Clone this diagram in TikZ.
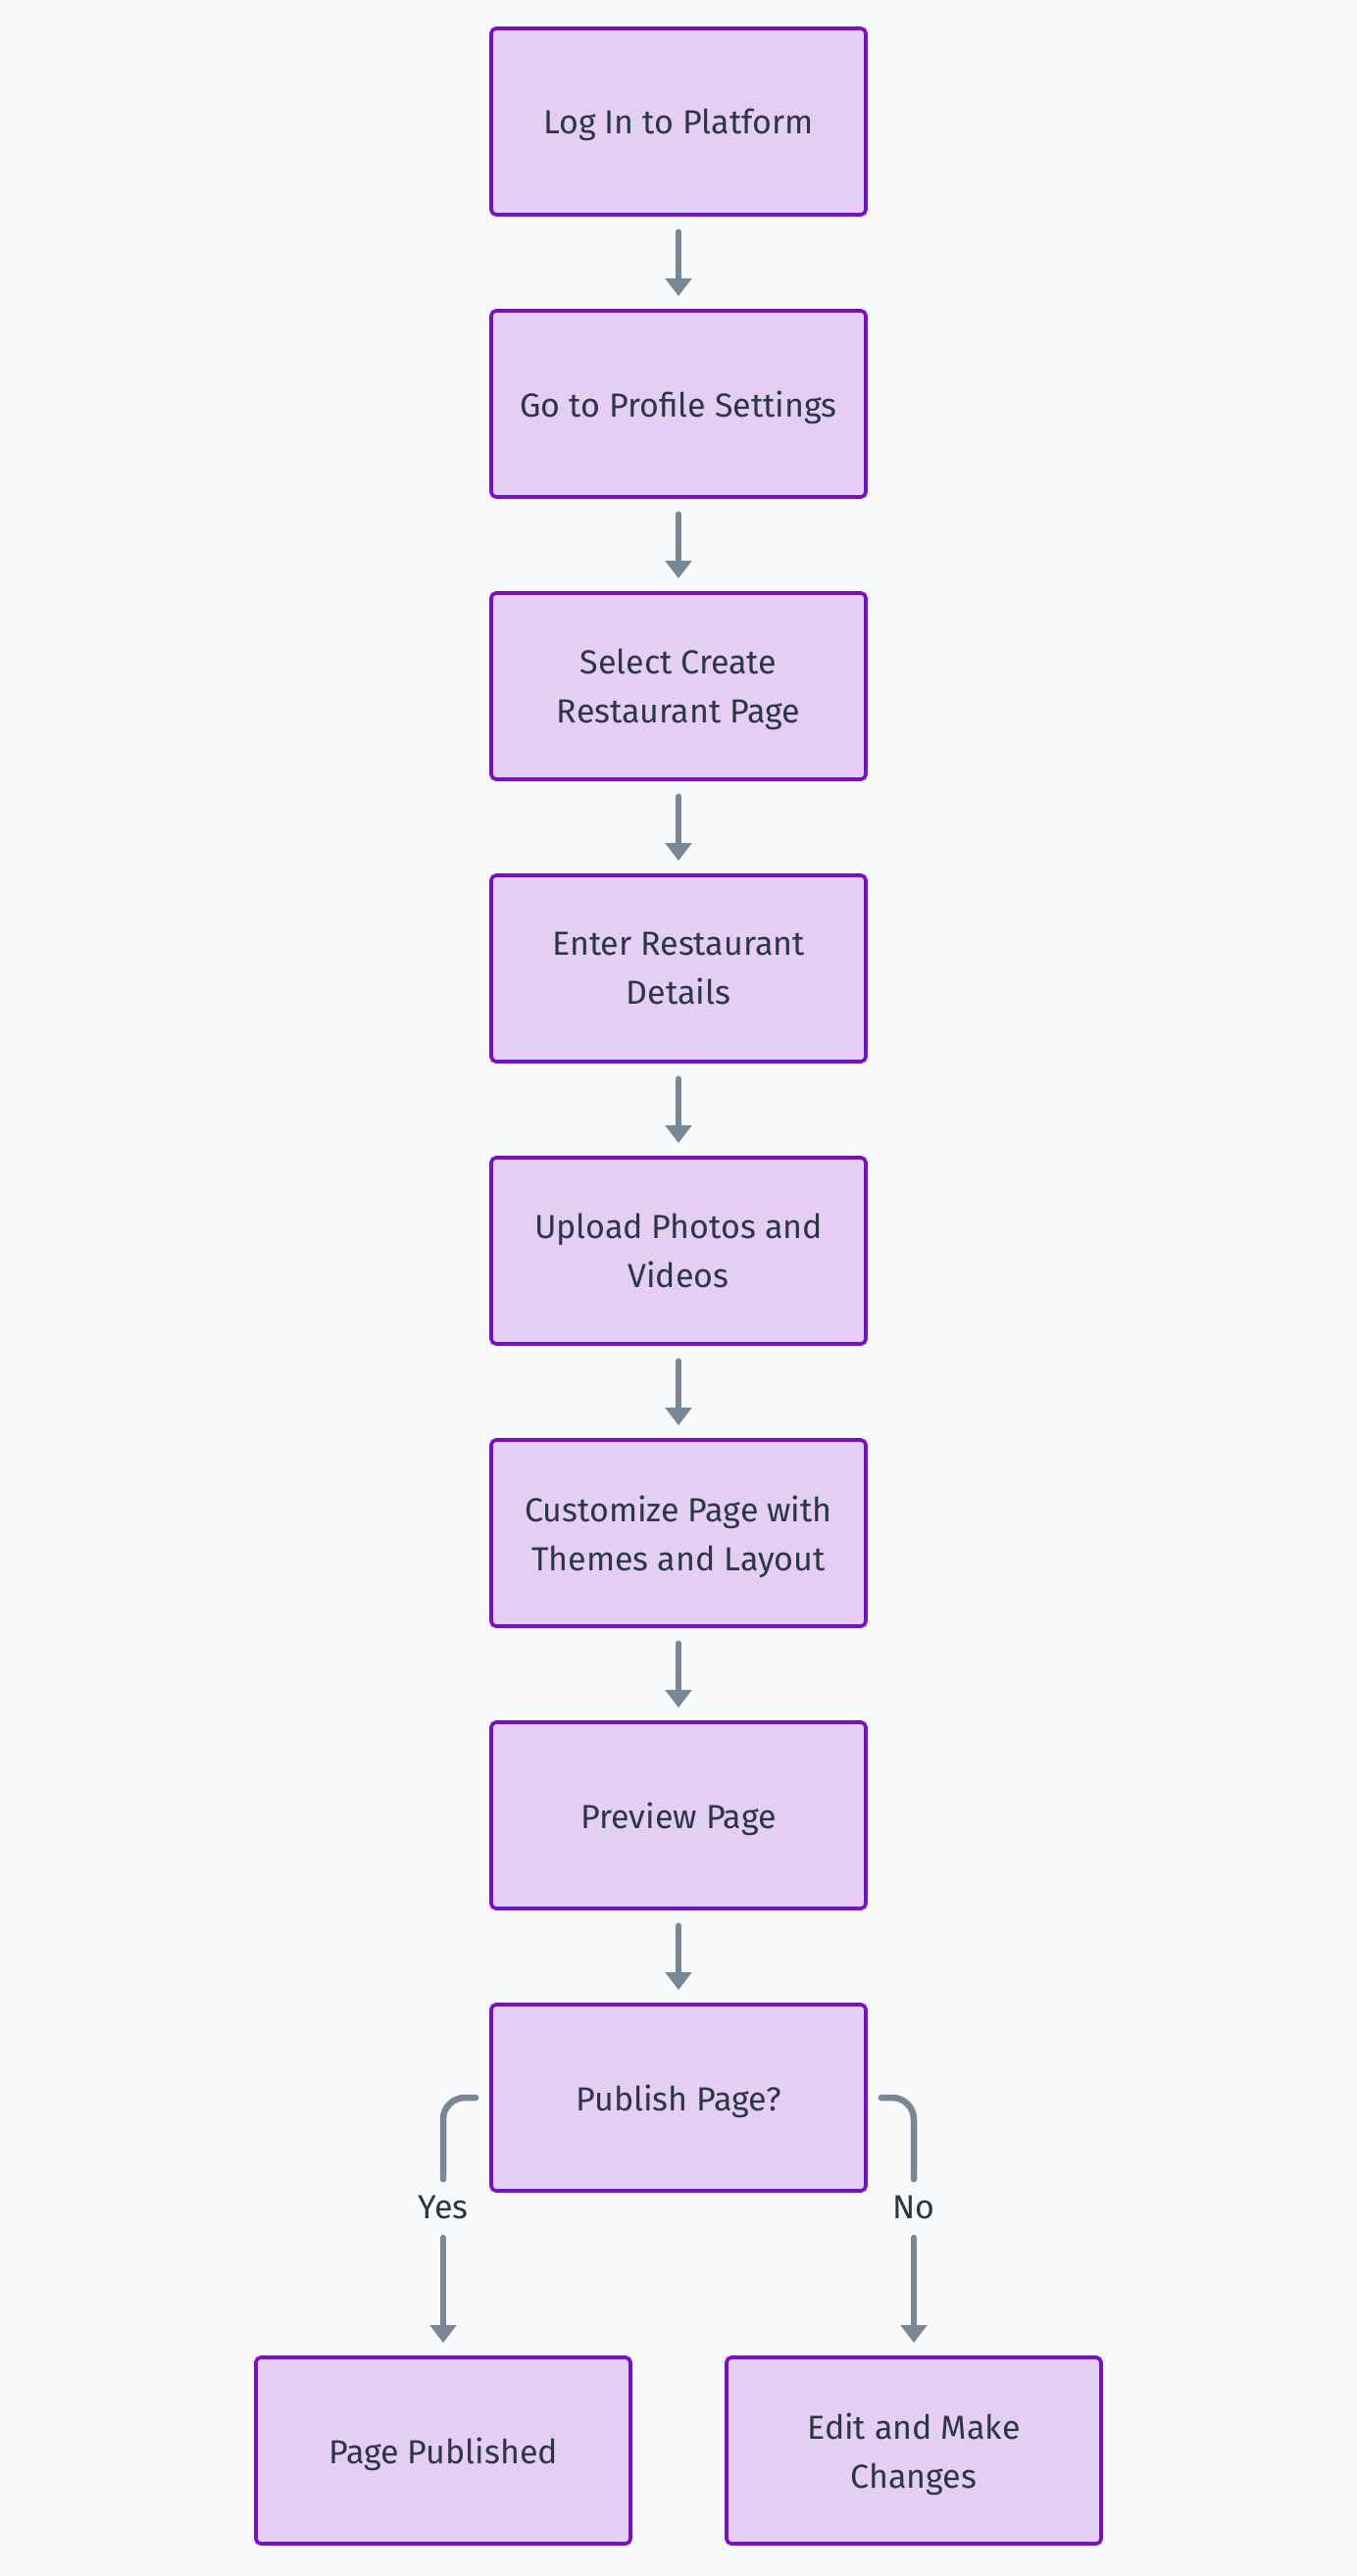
\documentclass[tikz,border=0pt]{standalone}
\usepackage{fontspec}
\setmainfont{Fira Sans}
\usetikzlibrary{positioning, arrows.meta}
\definecolor{bgcol}{HTML}{F8F9FB}
\definecolor{boxfill}{HTML}{E4CEF3}
\definecolor{boxline}{HTML}{7A10C6}
\definecolor{flowcol}{HTML}{7A8896}
\definecolor{txtcol}{HTML}{2C3645}
\begin{document}
\begin{tikzpicture} [x = 0.5pt, y = -0.5pt,
			node distance = 144pt,
			on grid,
			stepbox/.style = {draw = boxline, fill = boxfill,
				line width = 1.85pt, rounded corners = 2.5pt,
				minimum width = 191pt, minimum height = 95pt,
				align = center, text = txtcol, text depth = 0pt,
				font = \fontsize{17}{25}\selectfont
			},
			answer/.style = {inner sep = 0pt, minimum height = 28pt,
				text = txtcol, font = \fontsize{17}{25}\selectfont
			},
			flow/.style = {draw = flowcol, line width = 3.25pt,
				line cap = round,
				-{Triangle[width = 13pt, length = 9pt]}
			}
			]
			\useasboundingbox [fill = bgcol] (0,0) rectangle (1384,2628);
			% Steps
			\node (login) [stepbox] at (692,124) {Log In to Platform};
			\node (profile) [stepbox, below = of login] {Go to Profile Settings};
			\node (create) [stepbox, below = of profile] {Select Create\\Restaurant Page};
			\node (details) [stepbox, below = of create] {Enter Restaurant\\Details};
			\node (upload) [stepbox, below = of details] {Upload Photos and\\Videos};
			\node (theme) [stepbox, below = of upload] {Customize Page with\\Themes and Layout};
			\node (preview) [stepbox, below = of theme] {Preview Page};
			\node (publish) [stepbox, below = of preview] {Publish Page?};
			\node (done) [stepbox, below left = 180pt and 120pt of publish] {Page Published};
			\node (edit) [stepbox, below right = 180pt and 120pt of publish] {Edit and Make\\Changes};
			% Answers
			\node (yes) [answer, below left = 55.75pt and 120pt of publish] {Yes};
			\node (no) [answer, below right = 55.75pt and 120pt of publish] {No};
			%Transitions
			\foreach \from/\to in {login/profile, profile/create, create/details,
				details/upload, upload/theme, theme/preview, preview/publish}
				\draw [flow, shorten < = 8pt, shorten > = 6.5pt] (\from) -- (\to);
			
			\draw [flow, -, rounded corners = 11pt] ([xshift = -7pt]publish.west) -| (yes.north);
			\draw [flow, -, rounded corners = 11pt] ([xshift = 7pt]publish.east) -| (no.north);
			\draw [flow, shorten < = 1.5pt, shorten > = 6.5pt] (yes) -- (done);
			\draw [flow, shorten < = 1.5pt, shorten > = 6.5pt] (no) -- (edit);
		\end{tikzpicture}
\end{document}
